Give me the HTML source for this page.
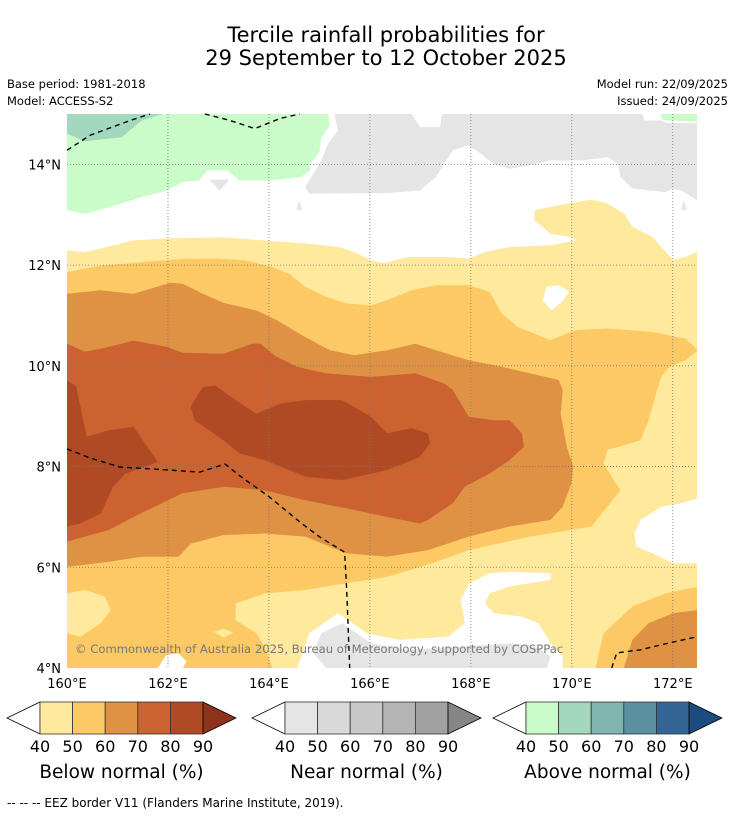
<!DOCTYPE html>
<html><head><meta charset="utf-8"><style>
body{margin:0;background:#fff;font-family:"DejaVu Sans","Liberation Sans",sans-serif}
svg{display:block}
</style></head><body>
<svg id="s" width="736" height="816" xmlns="http://www.w3.org/2000/svg" font-family="DejaVu Sans, Liberation Sans, sans-serif">
<text x="386" y="42" font-size="21" text-anchor="middle" fill="#000">Tercile rainfall probabilities for</text>
<text x="386" y="65" font-size="21" text-anchor="middle" fill="#000">29 September to 12 October 2025</text>
<text x="7" y="88" font-size="11.5">Base period: 1981-2018</text>
<text x="7" y="105" font-size="11.5">Model: ACCESS-S2</text>
<text x="728" y="88" font-size="11.5" text-anchor="end">Model run: 22/09/2025</text>
<text x="728" y="105" font-size="11.5" text-anchor="end">Issued: 24/09/2025</text>
<defs><clipPath id="mc"><rect x="67" y="114" width="630" height="554"/></clipPath></defs>
<g id="map" clip-path="url(#mc)"><rect x="67" y="114" width="630" height="554" fill="#fff"/></g>
<g id="grid"></g>
<g id="eez"></g>
<text x="75" y="653" font-size="11.6" fill="#777">© Commonwealth of Australia 2025, Bureau of Meteorology, supported by COSPPac</text>
<g id="ticks" font-size="13"></g>
<g id="cbars"></g>
<text x="7" y="807" font-size="12">-- -- -- EEZ border V11 (Flanders Marine Institute, 2019).</text>
</svg>
<script>
// map extent (degrees)
const lonMin=160, lonMax=172.48, latMin=4, latMax=15;
const lonTicks=[160,162,164,166,168,170,172];
const latTicks=[4,6,8,10,12,14];
// contour polygons [lon,lat], drawn in order
const greenLight=[[160,15],[165.17,15],[165.21,14.77],[165.04,14.54],[165,14.24],[164.82,14.01],[164.82,13.88],[164.64,13.75],[164.01,13.68],[163.42,13.68],[163.18,13.88],[162.78,13.88],[162.61,13.68],[162.29,13.65],[161.97,13.48],[161.48,13.35],[160.83,13.15],[160.35,13.02],[160,13.09]];
const greenTR=[[171.75,15],[172.48,15],[172.48,14.85],[171.8,14.88]];
const greenDark=[[160,15],[161.89,15],[161.48,14.87],[161.08,14.54],[160.35,14.46],[160,14.61]];
const grayTop=[[165.3,15],[166.83,15],[166.99,14.74],[167.39,14.74],[167.43,15],[171.4,15],[171.44,14.87],[171.77,14.87],[171.9,14.82],[172.48,14.82],[172.48,13.29],[172.17,13.48],[172.01,13.52],[171.85,13.45],[171.2,13.52],[170.96,13.75],[170.92,14.01],[170.71,14.14],[170.23,14.08],[169.58,14.08],[169.17,13.98],[168.77,13.91],[168.45,14.01],[168.2,14.21],[167.96,14.38],[167.64,14.28],[167.47,14.01],[167.31,13.75],[166.99,13.48],[166.34,13.43],[164.8,13.42],[164.72,13.55],[164.88,13.81],[165.04,14.08],[165.17,14.41],[165.37,14.67]];
const grayTri=[[162.82,13.7],[163.22,13.7],[163.02,13.48]];
const grayDrop1=[[164.6,13.28],[164.66,13.09],[164.54,13.09]];
const grayDrop2=[[172.22,13.28],[172.28,13.09],[172.16,13.09]];
const yellow=[[160,12.29],[160.35,12.26],[160.67,12.33],[161.32,12.49],[161.97,12.53],[163.1,12.55],[163.91,12.49],[164.72,12.43],[165.37,12.36],[165.69,12.26],[166.02,12.1],[166.26,12.04],[166.75,12.16],[167.56,12.16],[167.96,12.13],[168.28,12.26],[168.77,12.36],[169.58,12.39],[170.08,12.49],[169.99,12.56],[169.58,12.62],[169.26,12.89],[169.26,13.09],[169.9,13.22],[170.39,13.3],[170.71,13.22],[171.04,13.02],[171.2,12.76],[171.6,12.56],[171.77,12.36],[172.01,12.1],[172.25,12.16],[172.48,12.26],[172.48,4],[160,4]];
const whiteHole1=[[169.42,11.3],[169.5,11.57],[169.74,11.6],[169.95,11.47],[169.8,11.27],[169.6,11.1]];
const orange50=[[160,11.86],[160.67,11.99],[161.48,12.06],[162.29,12.12],[162.94,12.13],[163.51,12.1],[164.07,11.96],[164.4,11.83],[164.72,11.57],[165.13,11.37],[165.53,11.24],[166.02,11.2],[166.34,11.3],[166.83,11.5],[167.31,11.6],[167.96,11.6],[168.37,11.47],[168.61,11.04],[168.93,10.77],[169.58,10.51],[170.07,10.71],[170.71,10.74],[171.6,10.67],[172.25,10.54],[172.5,10.31],[172.25,10.11],[171.93,9.98],[171.77,9.78],[171.69,9.52],[171.52,8.92],[171.36,8.52],[170.71,8.33],[170.63,8.06],[170.96,7.53],[170.39,6.81],[169.17,6.61],[167.96,6.34],[167.15,6.05],[166.34,5.81],[165.53,5.68],[164.72,5.55],[163.91,5.48],[163.34,5.28],[163.34,4.95],[163.75,4.69],[163.91,4.43],[164.07,4],[160,4]];
const yellowPatch1=[[160,5.48],[160.35,5.55],[160.75,5.42],[160.87,5.15],[160.67,4.89],[160.26,4.62],[160,4.69]];
const yellowPatch2=[[162.9,4.72],[163.1,4.78],[163.3,4.7],[163.1,4.6]];
const orangeBR=[[170.47,4],[170.63,4.69],[171.2,5.22],[171.85,5.48],[172.48,5.61],[172.48,4]];
const orange60=[[160,11.43],[160.67,11.5],[161.32,11.43],[162.05,11.65],[162.29,11.63],[162.69,11.43],[163.1,11.25],[163.75,11.1],[164.15,10.91],[164.72,10.57],[165.21,10.31],[165.69,10.21],[166.34,10.31],[166.9,10.44],[167.31,10.31],[167.96,10.11],[168.61,9.98],[169.17,9.85],[169.74,9.72],[169.82,9.52],[169.78,9.05],[169.9,8.39],[170.03,8],[169.99,7.66],[169.82,7.2],[169.58,6.94],[168.77,6.81],[167.96,6.61],[167.15,6.34],[166.34,6.21],[165.53,6.28],[164.72,6.61],[163.91,6.67],[163.1,6.64],[162.45,6.47],[162.21,6.21],[161.48,6.21],[160.83,6.11],[160.35,6.05],[160,6.01]];
const orange60BR=[[171.03,4],[171.2,4.56],[171.52,4.89],[172.01,5.09],[172.48,5.15],[172.48,4]];
const red70=[[160,10.44],[160.35,10.28],[160.67,10.34],[161.08,10.44],[161.32,10.5],[161.97,10.38],[162.29,10.26],[163.1,10.24],[163.67,10.44],[163.83,10.44],[164.15,10.18],[164.56,9.98],[165.13,9.85],[166.02,9.78],[166.9,9.85],[167.47,9.65],[167.64,9.52],[167.96,8.99],[168.45,8.92],[168.77,8.92],[169.01,8.66],[169.05,8.39],[168.77,8.13],[168.37,7.86],[167.88,7.6],[167.64,7.27],[167.15,6.94],[166.99,6.87],[166.34,7],[165.69,7.14],[164.72,7.33],[163.91,7.53],[163.1,7.6],[162.29,7.47],[161.32,7],[160.83,6.74],[160.35,6.61],[160,6.51]];
const dark80L=[[160,9.71],[160.18,9.6],[160.39,8.59],[160.83,8.72],[161.32,8.79],[161.8,8.09],[161.16,7.86],[160.91,7.6],[160.67,7.07],[160.26,6.87],[160,6.81]];
const dark80C=[[162.45,9.19],[162.69,9.58],[162.94,9.61],[163.34,9.32],[163.75,9.05],[164.23,9.25],[164.72,9.32],[165.45,9.32],[166.02,8.99],[166.34,8.66],[166.83,8.76],[167.15,8.66],[167.19,8.46],[166.99,8.19],[166.34,7.93],[165.45,7.73],[164.72,7.8],[163.91,8.13],[163.42,8.26],[163.1,8.52],[162.53,8.92]];
const whiteHole2=[[171.36,6.94],[171.77,7.2],[172.17,7.27],[172.48,7.37],[172.48,6.08],[172,6.08],[171.6,6.28],[171.28,6.41],[171.24,6.67]];
const whiteBottom=[[168.37,5.88],[168.77,5.91],[169.58,5.88],[169.58,5.75],[168.77,5.62],[168.37,5.48],[168.28,5.28],[168.45,5.09],[169.01,5.02],[169.34,4.89],[169.58,4.49],[169.82,4.23],[169.82,4],[164.56,4],[164.8,4.69],[165.37,5.09],[165.94,4.69],[166.58,4.56],[167.55,4.62],[167.88,4.89],[167.8,5.35],[167.96,5.68]];
const grayBottom=[[164.88,4.3],[165.04,4.69],[165.45,4.89],[166.02,4.49],[166.75,4.36],[167.96,4.43],[168.77,4.49],[169.26,4.43],[169.58,4.23],[169.5,4],[165.13,4]];
const whiteBL=[[161.8,4],[161.97,4.26],[162.21,4.29],[162.37,4.13],[162.29,4]];
// EEZ polylines
const eez1=[[160,14.28],[160.46,14.58],[161.25,14.87],[161.64,15]];
const eez2=[[162.73,15],[163.23,14.87],[163.72,14.71],[164.22,14.91],[164.61,15]];
const eez3=[[160,8.35],[160.46,8.17],[161.05,7.99],[162.04,7.93],[162.63,7.89],[163.13,8.05],[163.43,7.81],[164.02,7.39],[164.61,6.9],[165.01,6.6],[165.5,6.3],[165.54,5.55],[165.6,4]];
const eez4=[[170.79,4],[170.89,4.3],[171.35,4.36],[171.94,4.5],[172.48,4.62]];
const cbValues=[40,50,60,70,80,90];
const belowColors=["#fee99d","#fdc964","#df9244","#cb6230","#b04a25","#8e321c"];
const nearColors=["#e5e5e5","#d9d9d9","#c8c8c8","#b5b5b5","#a1a1a1","#868686"];
const aboveColors=["#c9fcc9","#a3d7be","#80b4ae","#5b919f","#326594","#1a4c80"];

const X0=67,X1=697,Y0=114,Y1=668;
const xs=l=>X0+(l-lonMin)/(lonMax-lonMin)*(X1-X0);
const ys=l=>Y1-(l-latMin)/(latMax-latMin)*(Y1-Y0);
const NS="http://www.w3.org/2000/svg";
const pts=a=>a.map(p=>xs(p[0]).toFixed(1)+","+ys(p[1]).toFixed(1)).join(" ");
const map=document.getElementById('map');
function poly(a,fill,name){const e=document.createElementNS(NS,'polygon');e.setAttribute('points',pts(a));e.setAttribute('fill',fill);


map.appendChild(e);}
poly(greenLight,aboveColors[0],'above-normal-40-50');
poly(greenTR,aboveColors[0],'above-normal-40-50-top-right');
poly(greenDark,aboveColors[1],'above-normal-50-60');
poly(grayTop,nearColors[0],'near-normal-40-50');
poly(grayTri,nearColors[0],'near-normal-patch');
poly(grayDrop1,nearColors[0],'near-normal-patch-small');
poly(grayDrop2,nearColors[0],'near-normal-patch-right');
poly(yellow,belowColors[0],'below-normal-40-50');
poly(whiteHole1,'#fff','no-signal-patch');
poly(orange50,belowColors[1],'below-normal-50-60');
poly(yellowPatch1,belowColors[0],'below-normal-40-50-patch');
poly(yellowPatch2,belowColors[0],'below-normal-40-50-patch-small');
poly(orangeBR,belowColors[1],'below-normal-50-60-bottom-right');
poly(orange60,belowColors[2],'below-normal-60-70');
poly(orange60BR,belowColors[2],'below-normal-60-70-bottom-right');
poly(red70,belowColors[3],'below-normal-70-80');
poly(dark80L,belowColors[4],'below-normal-80-90-west');
poly(dark80C,belowColors[4],'below-normal-80-90-central');
poly(whiteHole2,'#fff','no-signal-east');
poly(whiteBottom,'#fff','no-signal-south');
poly(grayBottom,nearColors[0],'near-normal-south');
poly(whiteBL,'#fff','no-signal-southwest');

const grid=document.getElementById('grid');
lonTicks.slice(1).forEach(l=>{const e=document.createElementNS(NS,'line');e.setAttribute('x1',xs(l));e.setAttribute('x2',xs(l));e.setAttribute('y1',Y0);e.setAttribute('y2',Y1);e.setAttribute('stroke','#777');e.setAttribute('stroke-width','0.8');e.setAttribute('stroke-dasharray','1,2');


grid.appendChild(e);});
latTicks.slice(1).forEach(l=>{const e=document.createElementNS(NS,'line');e.setAttribute('y1',ys(l));e.setAttribute('y2',ys(l));e.setAttribute('x1',X0);e.setAttribute('x2',X1);e.setAttribute('stroke','#777');e.setAttribute('stroke-width','0.8');e.setAttribute('stroke-dasharray','1,2');


grid.appendChild(e);});
const eez=document.getElementById('eez');
[eez1,eez2,eez3,eez4].forEach(a=>{const e=document.createElementNS(NS,'polyline');e.setAttribute('points',pts(a));e.setAttribute('fill','none');e.setAttribute('stroke','#000');e.setAttribute('stroke-width','1.4');e.setAttribute('stroke-dasharray','5,4');


eez.appendChild(e);});
const ticks=document.getElementById('ticks');
lonTicks.forEach(l=>{const t=document.createElementNS(NS,'text');t.setAttribute('x',xs(l));t.setAttribute('y',688);t.setAttribute('text-anchor','middle');t.textContent=l+'°E';


ticks.appendChild(t);});
latTicks.forEach(l=>{const t=document.createElementNS(NS,'text');t.setAttribute('x',61);t.setAttribute('y',ys(l)+5);t.setAttribute('text-anchor','end');t.textContent=l+'°N';


ticks.appendChild(t);});
const cb=document.getElementById('cbars');
function colorbar(x0,colors,title,name){
  const g=document.createElementNS(NS,'g');
  
  
  const w=32.6,y=702,h=32,bx=x0+33;
  const l=document.createElementNS(NS,'polygon');l.setAttribute('points',`${bx},${y} ${x0},${y+h/2} ${bx},${y+h}`);l.setAttribute('fill','#fff');l.setAttribute('stroke','#000');l.setAttribute('stroke-width','0.8');
  
  
  g.appendChild(l);
  for(let i=0;i<5;i++){const r=document.createElementNS(NS,'rect');r.setAttribute('x',bx+i*w);r.setAttribute('y',y);r.setAttribute('width',w);r.setAttribute('height',h);r.setAttribute('fill',colors[i]);r.setAttribute('stroke','#333');r.setAttribute('stroke-width','0.8');
    
    
    g.appendChild(r);}
  const ex=bx+5*w;
  const a=document.createElementNS(NS,'polygon');a.setAttribute('points',`${ex},${y} ${ex+33},${y+h/2} ${ex},${y+h}`);a.setAttribute('fill',colors[5]);a.setAttribute('stroke','#000');a.setAttribute('stroke-width','0.8');
  
  
  g.appendChild(a);
  cbValues.forEach((v,i)=>{const t=document.createElementNS(NS,'text');t.setAttribute('x',bx+i*w);t.setAttribute('y',752);t.setAttribute('font-size','16');t.setAttribute('text-anchor','middle');t.textContent=v;
    
    
    g.appendChild(t);});
  const t=document.createElementNS(NS,'text');t.setAttribute('x',bx+2.5*w);t.setAttribute('y',778);t.setAttribute('font-size','18.5');t.setAttribute('text-anchor','middle');t.textContent=title;
  
  
  g.appendChild(t);
  cb.appendChild(g);
}
colorbar(7,belowColors,'Below normal (%)','below-normal-colorbar');
colorbar(252,nearColors,'Near normal (%)','near-normal-colorbar');
colorbar(493,aboveColors,'Above normal (%)','above-normal-colorbar');
</script>
</body></html>
